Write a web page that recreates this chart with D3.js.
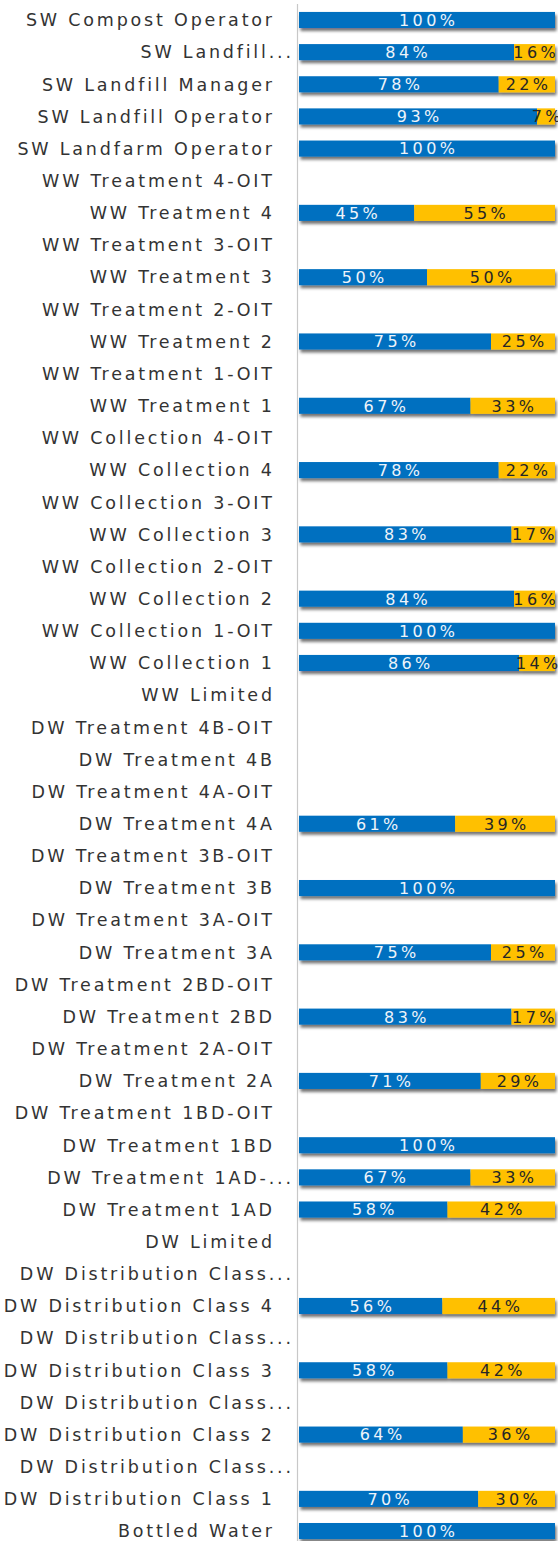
<!DOCTYPE html>
<html><head><meta charset="utf-8">
<script src="https://cdn.jsdelivr.net/npm/d3@7/dist/d3.min.js"></script>
<style>body{margin:0;background:#fff}svg{display:block}</style>
</head><body>
<script>
const categories = ["SW Compost Operator","SW Landfill...","SW Landfill Manager","SW Landfill Operator","SW Landfarm Operator",
"WW Treatment 4-OIT","WW Treatment 4","WW Treatment 3-OIT","WW Treatment 3","WW Treatment 2-OIT","WW Treatment 2",
"WW Treatment 1-OIT","WW Treatment 1","WW Collection 4-OIT","WW Collection 4","WW Collection 3-OIT","WW Collection 3",
"WW Collection 2-OIT","WW Collection 2","WW Collection 1-OIT","WW Collection 1","WW Limited",
"DW Treatment 4B-OIT","DW Treatment 4B","DW Treatment 4A-OIT","DW Treatment 4A","DW Treatment 3B-OIT","DW Treatment 3B",
"DW Treatment 3A-OIT","DW Treatment 3A","DW Treatment 2BD-OIT","DW Treatment 2BD","DW Treatment 2A-OIT","DW Treatment 2A",
"DW Treatment 1BD-OIT","DW Treatment 1BD","DW Treatment 1AD-...","DW Treatment 1AD","DW Limited",
"DW Distribution Class...","DW Distribution Class 4","DW Distribution Class...","DW Distribution Class 3",
"DW Distribution Class...","DW Distribution Class 2","DW Distribution Class...","DW Distribution Class 1","Bottled Water"];
const passPct = [100,84,78,93,100, null,45,null,50,null,75, null,67,null,78,null,83, null,84,100,86,null,
null,null,null,61,null,100, null,75,null,83,null,71, null,100,67,58,null, null,56,null,58, null,64,null,70,100];
const failPct = [0,16,22,7,0, null,55,null,50,null,25, null,33,null,22,null,17, null,16,0,14,null,
null,null,null,39,null,0, null,25,null,17,null,29, null,0,33,42,null, null,44,null,42, null,36,null,30,0];

const W = 558, H = 1541;
const svg = d3.select("body").append("svg").attr("width", W).attr("height", H);
const defs = svg.append("defs");
const f = defs.append("filter").attr("id","sh").attr("x","-5%").attr("y","-50%").attr("width","115%").attr("height","250%");
f.append("feDropShadow").attr("dx",1.5).attr("dy",3).attr("stdDeviation",1.6).attr("flood-color","#000").attr("flood-opacity",0.55);

const x = d3.scaleLinear().domain([0,100]).range([299,555]);
const y = d3.scaleBand().domain(d3.range(categories.length)).range([3.9,1547.1]).paddingInner(0.5).paddingOuter(0.25);

// axis line
svg.append("line").attr("x1",x(0)-1.5).attr("x2",x(0)-1.5).attr("y1",4).attr("y2",H)
  .attr("stroke","#c8c8c8").attr("stroke-width",1.2);

const font = "DejaVu Sans";
const ls = 2.8;
svg.append("g").selectAll("text").data(categories).join("text")
  .attr("x", d => (d.endsWith("...") ? 291 : 272) + ls)
  .attr("y", (d,i) => y(i) + y.bandwidth()/2)
  .attr("dy","0.36em")
  .attr("text-anchor","end")
  .attr("font-family",font).attr("font-size",17.5).attr("letter-spacing",ls+"px")
  .attr("fill","#333333")
  .text(d => d);

const rows = categories.map((c,i)=>({i, p:passPct[i], f:failPct[i]})).filter(d=>d.p!==null);
const g = svg.append("g");
rows.forEach(d=>{
  const grp = g.append("g").attr("filter","url(#sh)");
  grp.append("rect").attr("x",x(0)).attr("y",y(d.i)).attr("width",x(d.p)-x(0)).attr("height",y.bandwidth()).attr("fill","#0070C0");
  if (d.f>0) grp.append("rect").attr("x",x(d.p)).attr("y",y(d.i)).attr("width",x(d.p+d.f)-x(d.p)).attr("height",y.bandwidth()).attr("fill","#FFC000");
});
const vls = 3.4;
const lab = svg.append("g").attr("font-family",font).attr("font-size",16).attr("letter-spacing",vls+"px").attr("text-anchor","middle");
rows.forEach(d=>{
  lab.append("text").attr("x",(x(0)+x(d.p))/2 + vls/2).attr("y",y(d.i)+y.bandwidth()/2).attr("dy","0.37em")
    .attr("fill","#eef4fa").text(d.p+"%");
  if (d.f>0) lab.append("text").attr("x",(x(d.p)+x(d.p+d.f))/2 + vls/2).attr("y",y(d.i)+y.bandwidth()/2).attr("dy","0.37em")
    .attr("fill","#262626").text(d.f+"%");
});
</script>
</body></html>
